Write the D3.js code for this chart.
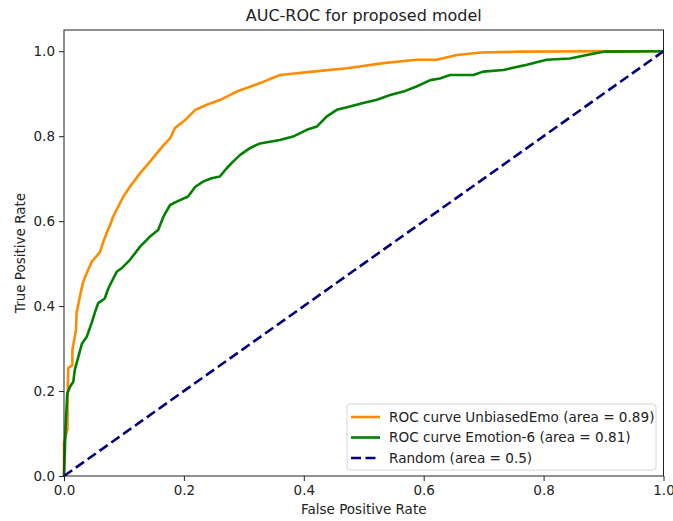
<!DOCTYPE html>
<html>
<head>
<meta charset="utf-8">
<script src="https://cdn.jsdelivr.net/npm/d3@7"></script>
<style>
  body { margin: 0; background: #fff; }
  text { font-family: "DejaVu Sans", sans-serif; fill: #222; }
</style>
</head>
<body>
<div id="chart"></div>
<script>
// ROC curve points: [false positive rate, true positive rate]
var unbiasedEmo = [
    [0, 0], [0, 0.08], [0.006, 0.111], [0.006, 0.172], [0.007, 0.254], [0.014, 0.261],
    [0.014, 0.297], [0.020, 0.344], [0.021, 0.384], [0.028, 0.433], [0.032, 0.457],
    [0.038, 0.478], [0.046, 0.504], [0.060, 0.527], [0.065, 0.549], [0.073, 0.579],
    [0.077, 0.591], [0.082, 0.611], [0.099, 0.658], [0.110, 0.681], [0.127, 0.713],
    [0.141, 0.736], [0.155, 0.760], [0.166, 0.779], [0.177, 0.795], [0.185, 0.819],
    [0.202, 0.838], [0.219, 0.862], [0.238, 0.874], [0.260, 0.885], [0.288, 0.905],
    [0.327, 0.925], [0.360, 0.944], [0.415, 0.952], [0.472, 0.960], [0.533, 0.972],
    [0.588, 0.980], [0.622, 0.980], [0.655, 0.991], [0.697, 0.997], [0.761, 0.999],
    [0.894, 1.0], [1.0, 1.0]
];

var emotion6 = [
    [0, 0], [0.003, 0.125], [0.0055, 0.195], [0.010, 0.210], [0.0155, 0.222],
    [0.018, 0.250], [0.024, 0.281], [0.030, 0.312], [0.038, 0.328], [0.046, 0.360],
    [0.052, 0.387], [0.057, 0.407], [0.068, 0.418], [0.074, 0.442], [0.088, 0.481],
    [0.096, 0.489], [0.110, 0.509], [0.127, 0.540], [0.143, 0.563], [0.157, 0.579],
    [0.166, 0.611], [0.177, 0.638], [0.188, 0.646], [0.207, 0.658], [0.219, 0.681],
    [0.232, 0.693], [0.246, 0.701], [0.260, 0.705], [0.271, 0.724], [0.282, 0.740],
    [0.294, 0.756], [0.310, 0.772], [0.327, 0.783], [0.360, 0.791], [0.382, 0.799],
    [0.405, 0.815], [0.422, 0.823], [0.438, 0.846], [0.455, 0.862], [0.477, 0.870],
    [0.499, 0.878], [0.522, 0.886], [0.544, 0.897], [0.566, 0.905], [0.588, 0.917],
    [0.611, 0.932], [0.627, 0.936], [0.644, 0.944], [0.683, 0.944], [0.699, 0.952],
    [0.733, 0.956], [0.772, 0.968], [0.805, 0.980], [0.844, 0.983], [0.872, 0.991],
    [0.900, 0.999], [1.0, 1.0]
];

var randomLine = [[0, 0], [1, 1]];

var legendLabels = [
    "ROC curve UnbiasedEmo (area = 0.89)",
    "ROC curve Emotion-6 (area = 0.81)",
    "Random (area = 0.5)"
];

var xTicks = [0, 0.2, 0.4, 0.6, 0.8, 1.0];
var yTicks = [0, 0.2, 0.4, 0.6, 0.8, 1.0];

function init() {
    var w = 673;
    var h = 521;
    var margin = { top: 30, right: 10, bottom: 45, left: 64 };

    var svg = d3.select("#chart")
        .append("svg")
        .attr("width", w)
        .attr("height", h);

    // scales: y goes a little above 1 like the original
    var x = d3.scaleLinear().domain([0, 1]).range([margin.left, 663.5]);
    var y = d3.scaleLinear().domain([0, 1.05]).range([476, margin.top]);

    var series = [
        { data: unbiasedEmo, color: "#ff8c00", dash: null },
        { data: emotion6, color: "#008000", dash: null },
        { data: randomLine, color: "#000080", dash: "10,4.5" }
    ];

    var line = d3.line()
        .x(function (d) { return x(d[0]); })
        .y(function (d) { return y(d[1]); });

    // curves
    svg.selectAll("path.curve")
        .data(series)
        .enter()
        .append("path")
        .attr("class", "curve")
        .attr("d", function (d) { return line(d.data); })
        .attr("fill", "none")
        .attr("stroke", function (d) { return d.color; })
        .attr("stroke-width", 2.6)
        .attr("stroke-linejoin", "round")
        .attr("stroke-dasharray", function (d) { return d.dash; });

    // axes
    svg.append("g")
        .attr("transform", "translate(0," + 476 + ")")
        .call(d3.axisBottom(x).tickValues(xTicks).tickFormat(d3.format(".1f")).tickSizeOuter(0).tickSize(5).tickPadding(4));

    svg.append("g")
        .attr("transform", "translate(" + margin.left + ",0)")
        .call(d3.axisLeft(y).tickValues(yTicks).tickFormat(d3.format(".1f")).tickSizeOuter(0).tickSize(5).tickPadding(4));

    svg.selectAll(".tick text")
        .style("font-size", "13.5px")
        .style("font-family", "DejaVu Sans, sans-serif")
        .attr("fill", "#222");
    svg.selectAll(".tick line").attr("stroke", "#222");
    svg.selectAll(".domain").remove();

    // frame around the plot
    svg.append("rect")
        .attr("x", x(0))
        .attr("y", y(1.05))
        .attr("width", x(1) - x(0))
        .attr("height", y(0) - y(1.05))
        .attr("fill", "none")
        .attr("stroke", "#222")
        .attr("stroke-width", 1);

    // title and axis labels
    svg.append("text")
        .attr("x", (x(0) + x(1)) / 2)
        .attr("y", 21)
        .attr("text-anchor", "middle")
        .style("font-size", "16px")
        .text("AUC-ROC for proposed model");

    svg.append("text")
        .attr("x", (x(0) + x(1)) / 2)
        .attr("y", 514)
        .attr("text-anchor", "middle")
        .style("font-size", "13.5px")
        .text("False Positive Rate");

    svg.append("text")
        .attr("transform", "translate(25," + (y(0) + y(1.05)) / 2 + ") rotate(-90)")
        .attr("text-anchor", "middle")
        .style("font-size", "13.5px")
        .text("True Positive Rate");

    // legend
    var legend = svg.append("g").attr("transform", "translate(347,404)");
    legend.append("rect")
        .attr("width", 309)
        .attr("height", 66)
        .attr("rx", 3)
        .attr("fill", "#fff")
        .attr("fill-opacity", 0.8)
        .attr("stroke", "#d6d6d6");

    var rows = legend.selectAll("g.row")
        .data(series)
        .enter()
        .append("g")
        .attr("class", "row")
        .attr("transform", function (d, i) { return "translate(0," + (13 + i * 20.5) + ")"; });

    rows.append("line")
        .attr("x1", 4).attr("x2", 33)
        .attr("stroke", function (d) { return d.color; })
        .attr("stroke-width", 2.6)
        .attr("stroke-dasharray", function (d) { return d.dash; });

    rows.append("text")
        .attr("x", 42)
        .attr("dy", "0.35em")
        .style("font-size", "13.6px")
        .text(function (d, i) { return legendLabels[i]; });
}

window.onload = init;
</script>
</body>
</html>
